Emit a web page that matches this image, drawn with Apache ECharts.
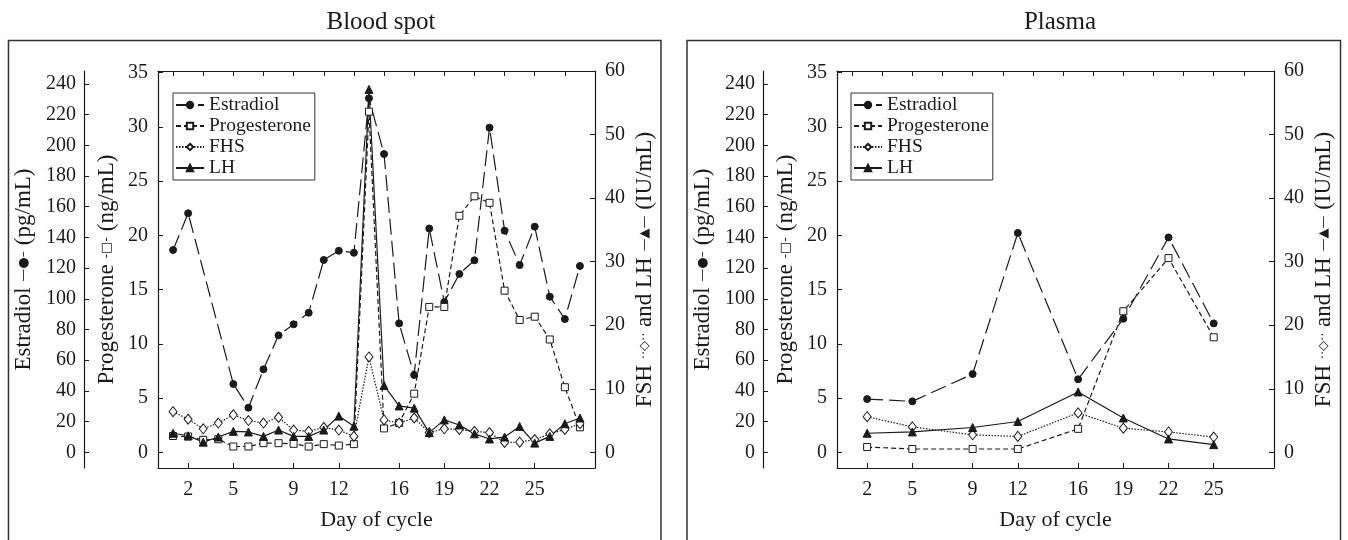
<!DOCTYPE html>
<html>
<head>
<meta charset="utf-8">
<script src="https://cdn.jsdelivr.net/npm/echarts@6/dist/echarts.min.js"></script>
<style>
  html, body { margin: 0; padding: 0; background: #fff; }
  #chart { width: 1348px; height: 540px; }
</style>
</head>
<body>
<div id="chart"></div>
<script>
// blood spot, days 1-28 (estradiol not measured on days 3 and 4)
const bsDays = [1, 2, 3, 4, 5, 6, 7, 8, 9, 10, 11, 12, 13, 14, 15, 16, 17, 18, 19, 20, 21, 22, 23, 24, 25, 26, 27, 28];
const bsEstradiol = [131.8, 155.7, null, null, 44.5, 29.1, 54.1, 76.2, 83.4, 90.9, 125.3, 131.3, 130, 230.6,
  194.3, 84, 50.4, 145.8, 97.9, 116.2, 125.1, 211.5, 144.4, 122, 147, 101.4, 86.8, 121.4];
const bsProgesterone = [1.5, 1.45, 1.15, 1.2, 0.53, 0.53, 0.84, 0.84, 0.78, 0.53, 0.75, 0.62, 0.75, 31.4,
  2.2, 2.7, 5.4, 13.4, 13.4, 21.8, 23.6, 23.0, 14.9, 12.2, 12.5, 10.4, 6.0, 2.3];
const bsFsh = [6.4, 5.2, 3.7, 4.6, 5.9, 5.0, 4.6, 5.5, 3.5, 3.3, 3.9, 3.5, 2.5, 15.0,
  5.1, 4.6, 5.4, 3.1, 3.7, 3.6, 3.3, 3.1, 1.55, 1.6, 2.0, 2.9, 3.6, 4.5];
const bsLh = [3.0, 2.6, 1.6, 2.4, 3.3, 3.2, 2.5, 3.5, 2.5, 2.5, 3.5, 5.7, 4.1, 57.1,
  10.5, 7.3, 6.95, 3.1, 5.1, 4.3, 2.9, 2.1, 2.4, 4.06, 1.45, 2.5, 4.5, 5.4];

// plasma
const plDays = [2, 5, 9, 12, 16, 19, 22, 25];
const plEstradiol = [34.7, 33.2, 51, 142.9, 47.6, 87, 140, 84];
const plProgesterone = [0.48, 0.3, 0.3, 0.3, 2.16, 13.0, 17.9, 10.6];
const plFsh = [5.6, 4.0, 2.75, 2.5, 6.2, 3.8, 3.2, 2.4];
const plLh = [3.0, 3.2, 3.9, 4.85, 9.5, 5.4, 2.1, 1.2];

// ticks
const dayLabels = [2, 5, 9, 12, 16, 19, 22, 25];
const topTicks = [1, 3, 5, 7, 9, 11, 13, 15, 17, 19, 21, 23, 25, 27];
const estradiolTicks = [0, 20, 40, 60, 80, 100, 120, 140, 160, 180, 200, 220, 240];
const progTicks = [0, 5, 10, 15, 20, 25, 30, 35];
const iuTicks = [0, 10, 20, 30, 40, 50, 60];
const names = ['Estradiol', 'Progesterone', 'FHS', 'LH'];

const ink = '#1a1a1a';
const serif = 'Liberation Serif';

const styles = {
  Estradiol: { symbol: 'circle', size: 7, dash: [16, 6], fill: ink, axis: 0 },
  Progesterone: { symbol: 'rect', size: 7, dash: [5, 3], fill: '#fff', axis: 1 },
  FHS: { symbol: 'diamond', size: [8, 10], dash: [1.5, 1.5], fill: '#fff', axis: 2 },
  LH: { symbol: 'triangle', size: 8, dash: 'solid', fill: ink, axis: 2 }
};

function makeSeries(name, panel, days, vals) {
  const s = styles[name];
  const data = [];
  days.forEach((d, k) => { if (vals[k] != null) data.push([d, vals[k]]); });
  return {
    type: 'line', name: name,
    xAxisIndex: panel * 2, yAxisIndex: panel * 3 + s.axis,
    data: data, symbol: s.symbol, symbolSize: s.size, showSymbol: true,
    lineStyle: { color: ink, width: 1.2, type: s.dash },
    itemStyle: { color: s.fill, borderColor: ink, borderWidth: 1 },
    animation: false
  };
}

function xAxes(g) {
  return [
    {
      gridIndex: g, type: 'value', position: 'bottom', min: 0, max: 29,
      axisLine: { onZero: false, lineStyle: { color: ink, width: 1.2 } },
      axisTick: { inside: true, length: 5, customValues: dayLabels, lineStyle: { color: ink } },
      axisLabel: { customValues: dayLabels, fontSize: 20, margin: 12, color: ink, fontFamily: serif },
      splitLine: { show: false },
      name: 'Day of cycle', nameLocation: 'middle', nameGap: 41,
      nameTextStyle: { fontSize: 22, color: ink, fontFamily: serif }
    },
    {
      gridIndex: g, type: 'value', position: 'top', min: 0, max: 29,
      axisLine: { onZero: false, lineStyle: { color: ink, width: 1.2 } },
      axisTick: { inside: true, length: 5, customValues: topTicks, lineStyle: { color: ink } },
      axisLabel: { show: false }, splitLine: { show: false }
    }
  ];
}

function yAxes(g) {
  const common = (ticks) => ({
    gridIndex: g, type: 'value',
    axisLine: { show: true, onZero: false, lineStyle: { color: ink, width: 1.2 } },
    axisTick: { show: true, inside: true, length: 5, customValues: ticks, lineStyle: { color: ink } },
    splitLine: { show: false }
  });
  const nameStyle = {
    fontSize: 23, color: ink, fontFamily: serif,
    rich: { s: { fontSize: 13, fontFamily: 'DejaVu Sans', color: ink } }
  };
  return [
    Object.assign(common(estradiolTicks), {
      position: 'left', offset: 74, min: -10.2, max: 248.4,
      axisLabel: { customValues: estradiolTicks, fontSize: 20, margin: 8, color: ink, fontFamily: serif },
      name: 'Estradiol {s|—●–} (pg/mL)', nameLocation: 'middle', nameGap: 49, nameTextStyle: nameStyle
    }),
    Object.assign(common(progTicks), {
      position: 'left', offset: 0, min: -1.45, max: 35.15,
      axisLabel: { customValues: progTicks, fontSize: 20, margin: 10, color: ink, fontFamily: serif },
      name: 'Progesterone {s|-□-} (ng/mL)', nameLocation: 'middle', nameGap: 40, nameTextStyle: nameStyle
    }),
    Object.assign(common(iuTicks), {
      position: 'right', offset: 0, min: -2.47, max: 60,
      axisLabel: { customValues: iuTicks, fontSize: 20, margin: 10, color: ink, fontFamily: serif },
      name: 'FSH {s|··◇··} and LH {s|—▲—} (IU/mL)', nameLocation: 'middle', nameGap: 38, nameRotate: 90,
      nameTextStyle: nameStyle
    })
  ];
}

function legend(left) {
  return {
    data: names, orient: 'vertical', left: left, top: 93,
    itemWidth: 28, itemHeight: 8, itemGap: 1,
    padding: [2, 4, 2, 2],
    borderColor: '#333', borderWidth: 1,
    textStyle: { fontSize: 19.5, lineHeight: 19.5, color: ink, fontFamily: serif }
  };
}

const series = [];
names.forEach(n => {
  const src = { Estradiol: [bsEstradiol, plEstradiol], Progesterone: [bsProgesterone, plProgesterone],
    FHS: [bsFsh, plFsh], LH: [bsLh, plLh] }[n];
  series.push(makeSeries(n, 0, bsDays, src[0]));
  series.push(makeSeries(n, 1, plDays, src[1]));
});

const chart = echarts.init(document.getElementById('chart'));
chart.setOption({
  backgroundColor: '#fff',
  animation: false,
  textStyle: { fontFamily: serif },
  title: [
    { text: 'Blood spot', left: 376, top: 5, textAlign: 'center',
      textStyle: { fontSize: 25, fontWeight: 'normal', color: ink, fontFamily: serif } },
    { text: 'Plasma', left: 1055, top: 5, textAlign: 'center',
      textStyle: { fontSize: 25, fontWeight: 'normal', color: ink, fontFamily: serif } }
  ],
  grid: [
    { left: 158, right: 753, top: 71, bottom: 72 },
    { left: 837, right: 74, top: 71, bottom: 72 }
  ],
  legend: [legend(173), legend(851)],
  xAxis: xAxes(0).concat(xAxes(1)),
  yAxis: yAxes(0).concat(yAxes(1)),
  series: series,
  graphic: [
    { type: 'rect', silent: true, shape: { x: 8.5, y: 40.5, width: 652.5, height: 520 },
      style: { fill: 'none', stroke: '#333', lineWidth: 1.5 } },
    { type: 'rect', silent: true, shape: { x: 687, y: 40.5, width: 653.5, height: 520 },
      style: { fill: 'none', stroke: '#333', lineWidth: 1.5 } }
  ]
});
</script>
</body>
</html>
